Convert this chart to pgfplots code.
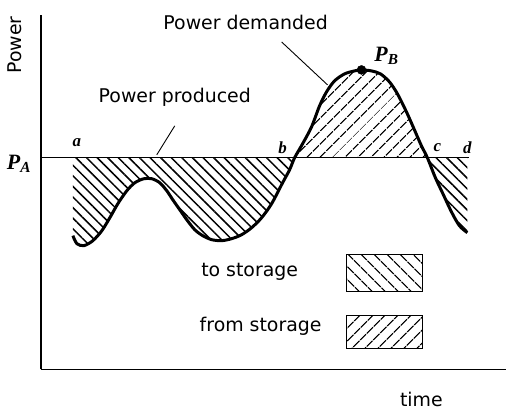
\documentclass[border=0pt]{standalone}
\usepackage{pgfplots}
\pgfplotsset{compat=1.18}
\usetikzlibrary{patterns.meta}
\usepackage{fontspec}
\setmainfont{DejaVu Sans}
\newfontfamily\lbl{Liberation Serif}
\begin{document}
\begin{tikzpicture}
\begin{axis}[
  width=466bp, height=355bp, scale only axis,
  xmin=0, xmax=466, ymin=0, ymax=355,
  axis lines*=left, axis line style={line width=1.4bp},
  xtick=\empty, ytick=\empty,
  clip=false,
]
\path (axis cs:-41,-40) rectangle (axis cs:466,370);
% hatched regions: to storage (demand below production)
\addplot[pattern={Lines[angle=-45,distance=7.5bp,line width=1.5bp]}, draw=none] coordinates {
(32,212) (32,134) (36,126) (43,124) (52,129) (61,139) (69,152) (77,166) (86,179) (94,187)
(103,191) (111,191) (119,187) (126,179) (132,170) (139,160) (146,150) (154,140)
(162,134) (171,130) (181,129) (191,131) (201,135) (211,142) (221,152) (231,166)
(242,187) (249,200) (254,212)} -- cycle;
% from storage (demand above production)
\addplot[pattern={Lines[angle=45,distance=10bp,line width=1.5bp]}, draw=none] coordinates {
(254,212) (262,226) (271,243) (279,264) (286,278) (294,289)
(304,296) (314,299) (321,300) (331,299) (340,296) (349,288) (357,276) (366,258)
(374,240) (381,224) (387,212)} -- cycle;
% to storage again
\addplot[pattern={Lines[angle=-45,distance=7.5bp,line width=1.5bp]}, draw=none] coordinates {
(387,212) (395,192) (403,175) (411,158) (419,144) (427,137) (427,212)} -- cycle;
% produced power level P_A
\addplot[draw=black, line width=1.4bp] coordinates {(0,212) (429,212)};
% demanded power
\addplot[black, line width=3bp, smooth, tension=0.5] coordinates {
(32,134) (36,126) (43,124) (52,129) (61,139) (69,152) (77,166) (86,179) (94,187)
(103,191) (111,191) (119,187) (126,179) (132,170) (139,160) (146,150) (154,140)
(162,134) (171,130) (181,129) (191,131) (201,135) (211,142) (221,152) (231,166)
(242,187) (249,200) (254,212) (262,226) (271,243) (279,264) (286,278) (294,289)
(304,296) (314,299) (321,300) (331,299) (340,296) (349,288) (357,276) (366,258)
(374,240) (381,224) (387,212) (395,192) (403,175) (411,158) (419,144) (427,137)};
% peak P_B
\addplot[only marks, mark=*, mark size=4.5bp, black] coordinates {(321,300)};
% pointer lines
\addplot[black, line width=0.9bp] coordinates {(241,328) (287,285)};
\addplot[black, line width=0.9bp] coordinates {(134,244) (116,215)};
% legend boxes
\addplot[draw=black, line width=1.2bp, pattern={Lines[angle=-45,distance=10bp,line width=1.5bp]}]
  coordinates {(306,78) (382,78) (382,115) (306,115)} -- cycle;
\addplot[draw=black, line width=1.2bp, pattern={Lines[angle=45,distance=10bp,line width=1.5bp]}]
  coordinates {(306,21) (382,21) (382,54) (306,54)} -- cycle;
% texts
\node[rotate=90, font=\fontsize{19}{22}\selectfont] at (axis cs:-26,325) {Power};
\node[font=\fontsize{19}{22}\selectfont] at (axis cs:381,-30) {time};
\node[font=\fontsize{19}{22}\selectfont] at (axis cs:205,348) {Power demanded};
\node[font=\fontsize{19}{22}\selectfont] at (axis cs:134,273) {Power produced};
\node[font=\fontsize{19}{22}\selectfont] at (axis cs:209,98) {to storage};
\node[font=\fontsize{19}{22}\selectfont] at (axis cs:220,43) {from storage};
\node[font=\lbl\bfseries\itshape\fontsize{22}{22}\selectfont] at (axis cs:-22,206) {P\textsubscript{A}};
\node[font=\lbl\bfseries\itshape\fontsize{22}{22}\selectfont] at (axis cs:346,314) {P\textsubscript{B}};
\node[font=\lbl\bfseries\itshape\fontsize{17}{18}\selectfont] at (axis cs:36,227) {a};
\node[font=\lbl\bfseries\itshape\fontsize{17}{18}\selectfont] at (axis cs:242,222) {b};
\node[font=\lbl\bfseries\itshape\fontsize{17}{18}\selectfont] at (axis cs:397,222) {c};
\node[font=\lbl\bfseries\itshape\fontsize{17}{18}\selectfont] at (axis cs:427,222) {d};
\end{axis}
\end{tikzpicture}
\end{document}
